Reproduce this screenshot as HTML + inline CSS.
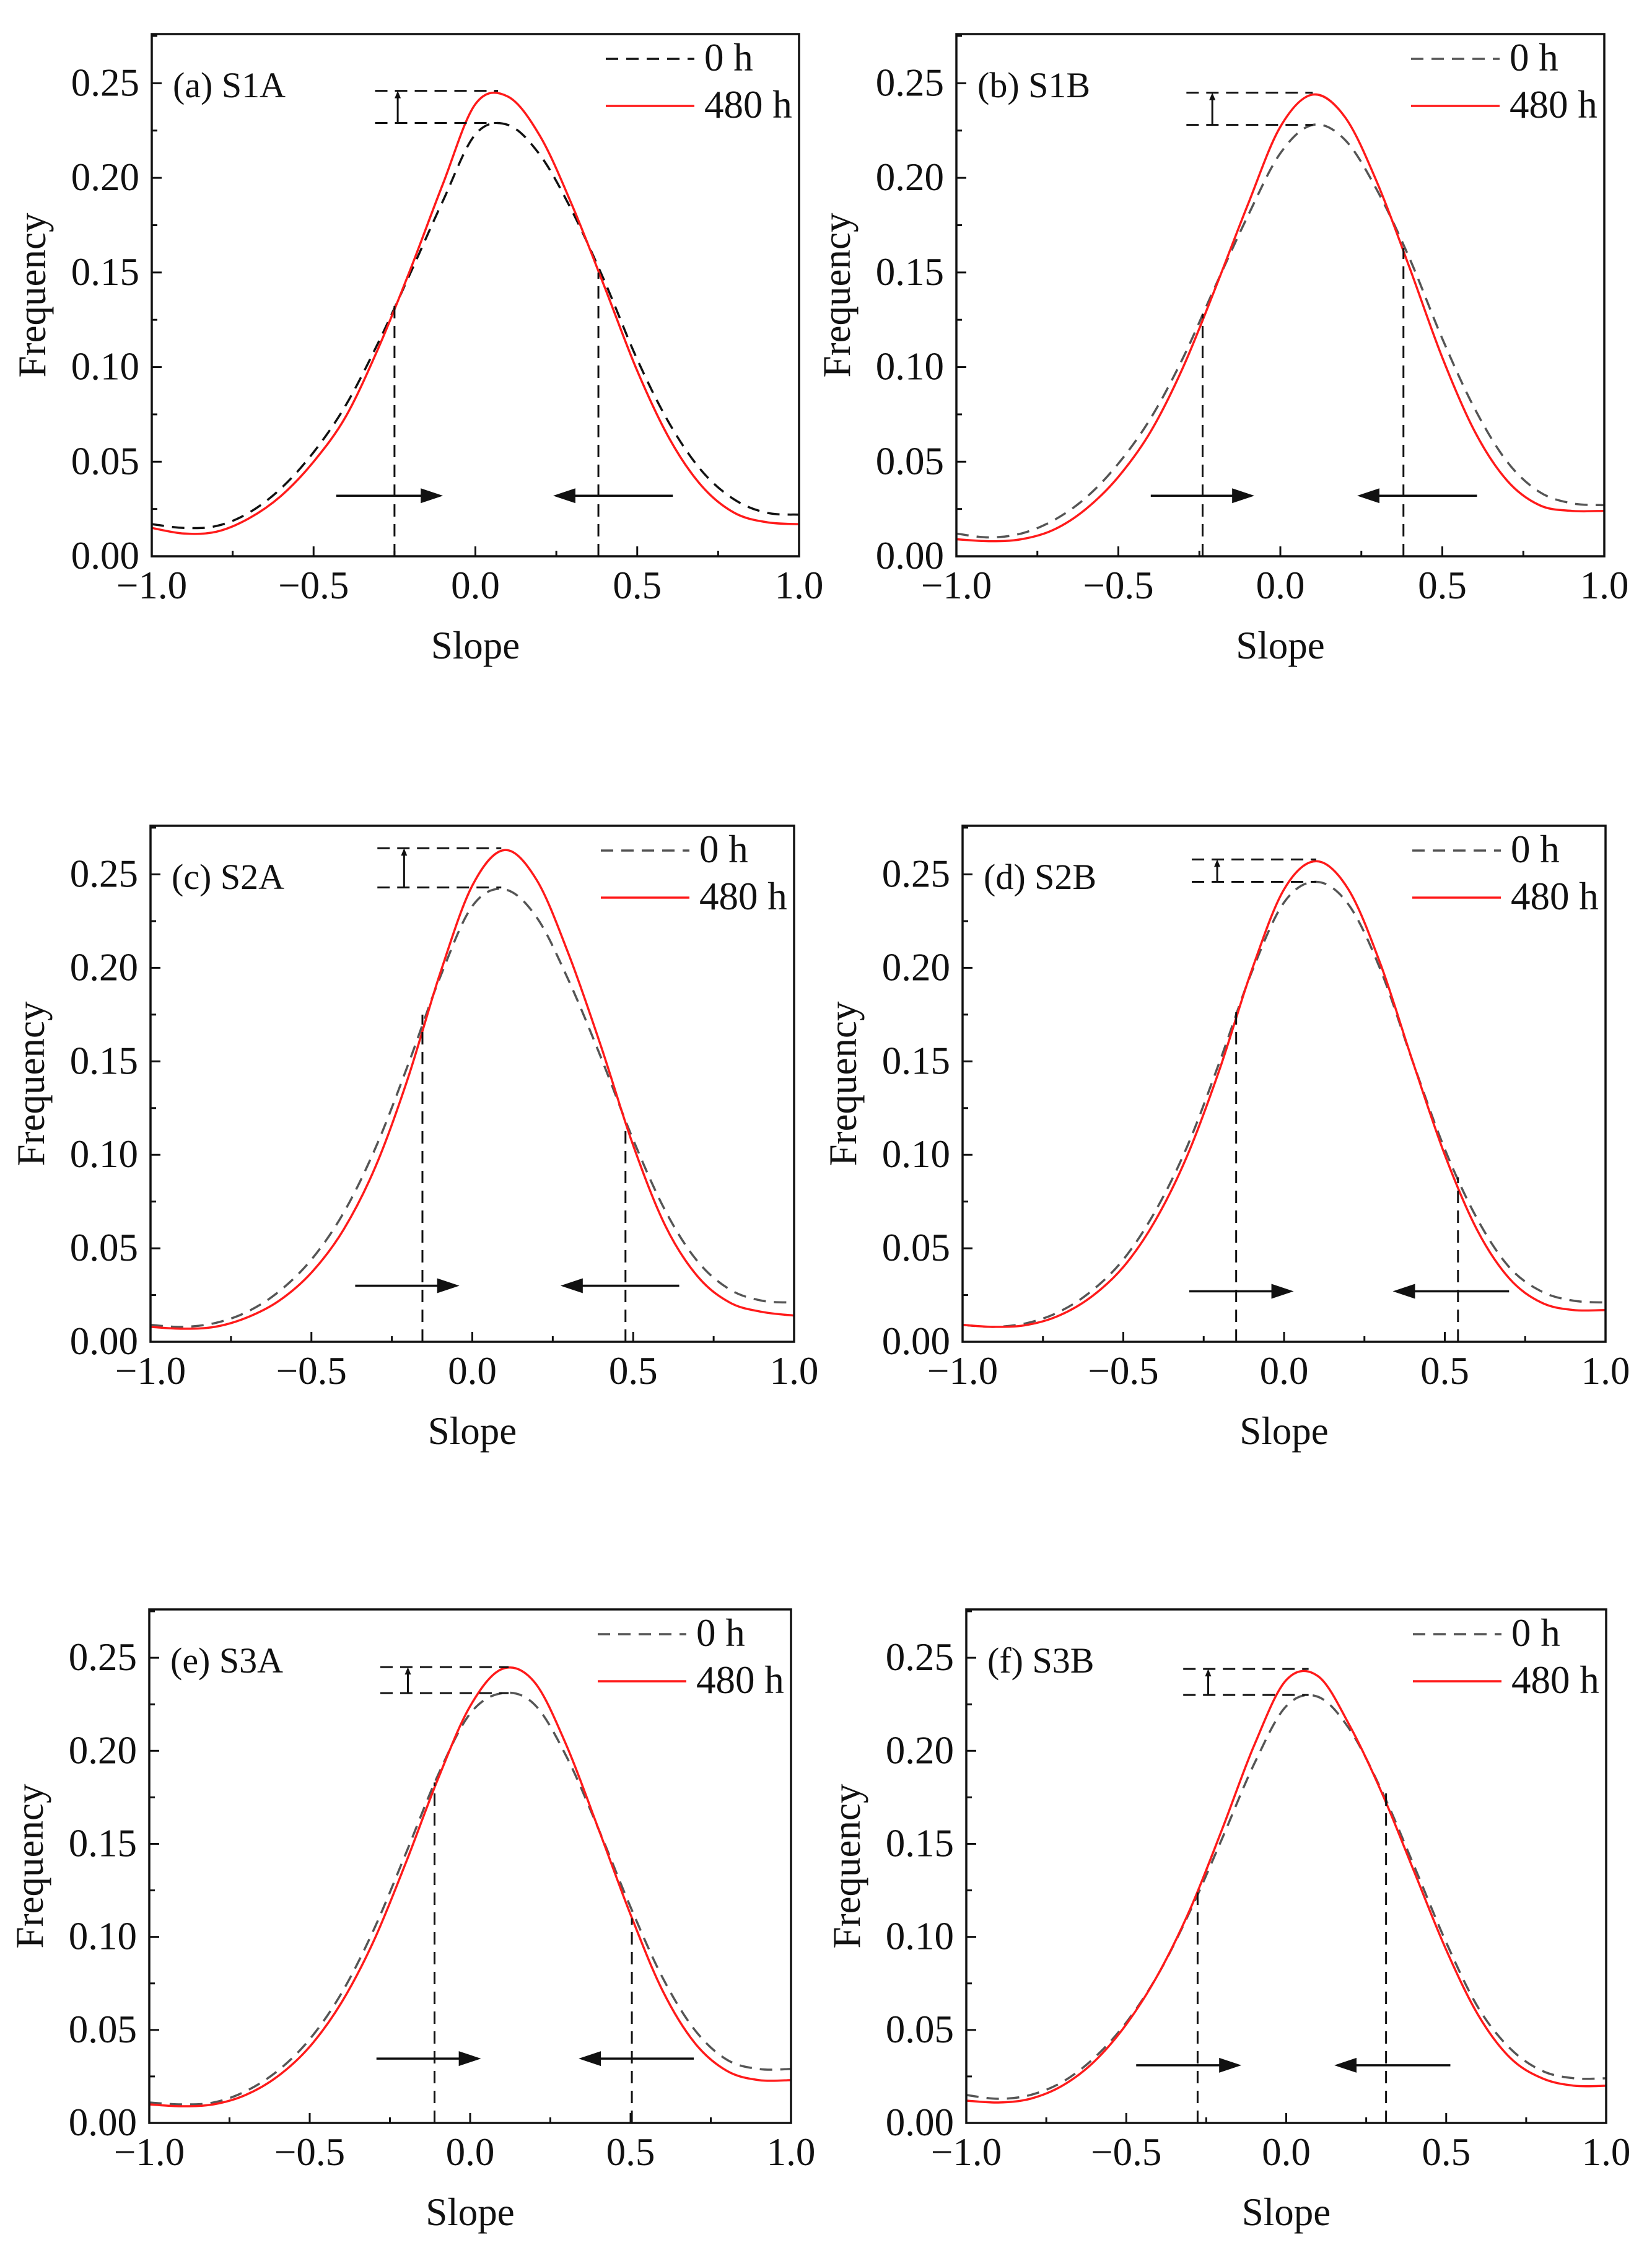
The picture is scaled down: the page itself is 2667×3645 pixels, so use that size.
<!DOCTYPE html>
<html><head><meta charset="utf-8"><style>
html,body{margin:0;padding:0;background:#fff;}
svg{display:block;}
text{font-family:"Liberation Serif",serif;fill:#111;}
</style></head>
<body>
<svg id="fig" xmlns="http://www.w3.org/2000/svg" width="2667" height="3645" viewBox="0 0 2667 3645"></svg>
<script>
// shared x sample grid (Slope)
const slopeX = [-1,-0.9,-0.8,-0.7,-0.6,-0.5,-0.4,-0.3,-0.2,-0.1,0,0.1,0.2,0.3,0.4,0.5,0.6,0.7,0.8,0.9,1];
const xTicks = [-1.0,-0.5,0.0,0.5,1.0];
const xTickLabels = ["\u22121.0","\u22120.5","0.0","0.5","1.0"];
const yTicks = [0,0.05,0.10,0.15,0.20,0.25];
const yTickLabels = ["0.00","0.05","0.10","0.15","0.20","0.25"];
const panelLabels = ["(a) S1A","(b) S1B","(c) S2A","(d) S2B","(e) S3A","(f) S3B"];

const a0h   = [.017,.015,.016,.023,.036,.055,.080,.113,.150,.188,.223,.228,.212,.182,.145,.104,.070,.045,.030,.023,.022];
const a480h = [.015,.012,.013,.020,.032,.050,.074,.110,.152,.197,.239,.243,.222,.185,.142,.098,.062,.037,.023,.018,.017];
const b0h   = [.012,.010,.012,.019,.031,.049,.073,.105,.143,.180,.213,.228,.220,.193,.157,.115,.078,.050,.034,.028,.027];
const b480h = [.009,.008,.009,.014,.025,.042,.066,.100,.142,.186,.227,.244,.232,.197,.152,.105,.066,.040,.027,.024,.024];
const c0h   = [.009,.008,.010,.016,.027,.044,.069,.104,.148,.195,.233,.242,.227,.193,.152,.108,.070,.043,.028,.022,.021];
const c480h = [.008,.007,.008,.013,.022,.037,.060,.094,.141,.197,.244,.263,.247,.207,.158,.105,.062,.035,.021,.016,.014];
const d0h   = [.009,.008,.010,.016,.027,.044,.070,.105,.150,.198,.235,.246,.234,.199,.150,.103,.066,.040,.027,.022,.021];
const d480h = [.009,.008,.009,.014,.024,.040,.065,.100,.146,.199,.242,.257,.242,.202,.150,.100,.060,.034,.021,.017,.017];
const e0h   = [.011,.010,.011,.017,.028,.045,.070,.104,.145,.187,.220,.231,.225,.197,.158,.116,.078,.050,.034,.029,.029];
const e480h = [.010,.009,.010,.015,.025,.041,.065,.098,.140,.185,.224,.244,.237,.203,.158,.112,.071,.043,.028,.023,.023];
const f0h   = [.015,.013,.015,.022,.035,.054,.080,.114,.153,.193,.224,.229,.211,.178,.138,.097,.062,.040,.028,.024,.024];
const f480h = [.012,.011,.013,.020,.033,.053,.080,.115,.158,.203,.238,.240,.213,.177,.135,.093,.058,.035,.024,.020,.020];
const series0h = [a0h,b0h,c0h,d0h,e0h,f0h];
const series480h = [a480h,b480h,c480h,d480h,e480h,f480h];

// annotation values (data units)
const peakRed  = [.246,.245,.264,.258,.245,.244];
const peakGray = [.229,.228,.243,.246,.231,.230];
const peakX    = [.07,.10,.09,.10,.12,.07];
const hLineStart = [-.31,-.29,-.295,-.287,-.28,-.322];
const upArrowX = [-.24,-.21,-.212,-.208,-.194,-.244];
const vLineX   = [[-.25,.38],[-.24,.38],[-.155,.476],[-.149,.541],[-.111,.504],[-.277,.312]];
const vLineTop = [[.135,.15],[.128,.163],[.175,.115],[.177,.088],[.183,.11],[.125,.178]];
const arrowY   = [.032,.032,.030,.027,.0346,.031];
const rightArrow = [[-.43,-.10],[-.40,-.08],[-.364,-.04],[-.295,.03],[-.292,.034],[-.469,-.14]];
const leftArrow  = [[.61,.24],[.607,.237],[.643,.274],[.70,.338],[.697,.338],[.513,.15]];

// layout (not data)
const frames = [
 {L:245,R:1290,T:55,B:898},{L:1544,R:2590,T:55,B:898},
 {L:243,R:1282,T:1333,B:2166},{L:1554,R:2592,T:1333,B:2166},
 {L:241,R:1277,T:2598,B:3427},{L:1560,R:2593,T:2598,B:3427}];
const YMAX = 0.276;
const NS='http://www.w3.org/2000/svg';
const svg=document.getElementById('fig');
function el(tag,attrs,parent){const e=document.createElementNS(NS,tag);for(const k in attrs)e.setAttribute(k,attrs[k]);(parent||svg).appendChild(e);return e;}

function catmull(pts){
  let d='M'+pts[0][0].toFixed(1)+','+pts[0][1].toFixed(1);
  for(let i=0;i<pts.length-1;i++){
    const p0=pts[Math.max(0,i-1)],p1=pts[i],p2=pts[i+1],p3=pts[Math.min(pts.length-1,i+2)];
    const c1=[p1[0]+(p2[0]-p0[0])/6,p1[1]+(p2[1]-p0[1])/6];
    const c2=[p2[0]-(p3[0]-p1[0])/6,p2[1]-(p3[1]-p1[1])/6];
    d+=' C'+c1[0].toFixed(1)+','+c1[1].toFixed(1)+' '+c2[0].toFixed(1)+','+c2[1].toFixed(1)+' '+p2[0].toFixed(1)+','+p2[1].toFixed(1);
  }
  return d;
}

frames.forEach((f,i)=>{
  const g=el('g',{});
  
  
  const sx=v=>f.L+(v+1)/2*(f.R-f.L);
  const sy=v=>f.B-v/YMAX*(f.B-f.T);
  for(let k=0;k<=8;k++){const v=-1+k*0.25;const x=sx(v);const len=(k%2==0)?16:9;
    const t=el('line',{x1:x,y1:f.B,x2:x,y2:f.B-len,stroke:'#111','stroke-width':3},g);
    }
  for(let k=0;k<=11;k++){const v=k*0.025;const y=sy(v);const len=(k%2==0)?16:9;
    const t=el('line',{x1:f.L,y1:y,x2:f.L+len,y2:y,stroke:'#111','stroke-width':3},g);
    }
  xTicks.forEach((v,k)=>{const t=el('text',{x:sx(v),y:f.B+68,'font-size':63,'text-anchor':'middle'},g);t.textContent=xTickLabels[k];
    });
  yTicks.forEach((v,k)=>{const t=el('text',{x:f.L-20,y:sy(v)+20,'font-size':63,'text-anchor':'end'},g);t.textContent=yTickLabels[k];
    });
  const xt=el('text',{x:(f.L+f.R)/2,y:f.B+165,'font-size':63,'text-anchor':'middle'},g);xt.textContent='Slope';
  
  const yx=f.L-172, yc=(f.T+f.B)/2;
  const yt=el('text',{x:yx,y:yc,'font-size':63,'text-anchor':'middle',transform:'rotate(-90 '+yx+' '+yc+')'},g);yt.textContent='Frequency';
  
  const grayCol = i===0?'#111':'#555';
  const p0=el('path',{d:catmull(slopeX.map((x,k)=>[sx(x),sy(series0h[i][k])])),fill:'none',stroke:grayCol,'stroke-width':3.5,'stroke-dasharray':'20 13'},g);
  
  const p1=el('path',{d:catmull(slopeX.map((x,k)=>[sx(x),sy(series480h[i][k])])),fill:'none',stroke:'#ff1a1a','stroke-width':3.5},g);
  
  const dash={fill:'none',stroke:'#111','stroke-width':3,'stroke-dasharray':'20 12'};
  const h1=el('line',Object.assign({x1:sx(hLineStart[i]),y1:sy(peakRed[i]),x2:sx(peakX[i]),y2:sy(peakRed[i])},dash),g);
  
  const h2=el('line',Object.assign({x1:sx(hLineStart[i]),y1:sy(peakGray[i]),x2:sx(peakX[i]),y2:sy(peakGray[i])},dash),g);
  
  const ux=sx(upArrowX[i]), uy1=sy(peakGray[i]), uy2=sy(peakRed[i]);
  const ua=el('line',{x1:ux,y1:uy1,x2:ux,y2:uy2+8,stroke:'#111','stroke-width':3},g);
  
  el('path',{d:`M${ux-5},${uy2+12} L${ux},${uy2} L${ux+5},${uy2+12} Z`,fill:'#111'},g);
  vLineX[i].forEach((vx,k)=>{const v=el('line',Object.assign({x1:sx(vx),y1:f.B,x2:sx(vx),y2:sy(vLineTop[i][k])},dash),g);
    });
  [[rightArrow[i],'right'],[leftArrow[i],'left']].forEach(([ar,nm])=>{
    const x1=sx(ar[0]),x2=sx(ar[1]),y=sy(arrowY[i]);const dir=x2>x1?1:-1;
    const l=el('line',{x1:x1,y1:y,x2:x2-dir*30,y2:y,stroke:'#111','stroke-width':3.5},g);
    
    el('path',{d:`M${x2-dir*36},${y-12} L${x2},${y} L${x2-dir*36},${y+12} Z`,fill:'#111'},g);
  });
  const fr=el('rect',{x:f.L,y:f.T,width:f.R-f.L,height:f.B-f.T,fill:'none',stroke:'#111','stroke-width':3.5},g);
  
  const pl=el('text',{x:f.L+34,y:f.T+102,'font-size':58},g);pl.textContent=panelLabels[i];
  
  const lg=el('g',{},g);
  el('line',{x1:f.R-312,y1:f.T+40,x2:f.R-169,y2:f.T+40,stroke:grayCol,'stroke-width':3.5,'stroke-dasharray':'20 13'},lg);
  const t0=el('text',{x:f.R-153,y:f.T+59,'font-size':63},lg);t0.textContent='0 h';
  
  el('line',{x1:f.R-312,y1:f.T+116,x2:f.R-169,y2:f.T+116,stroke:'#ff1a1a','stroke-width':3.5},lg);
  const t1=el('text',{x:f.R-153,y:f.T+135,'font-size':63},lg);t1.textContent='480 h';
  
});
</script>
</body></html>
